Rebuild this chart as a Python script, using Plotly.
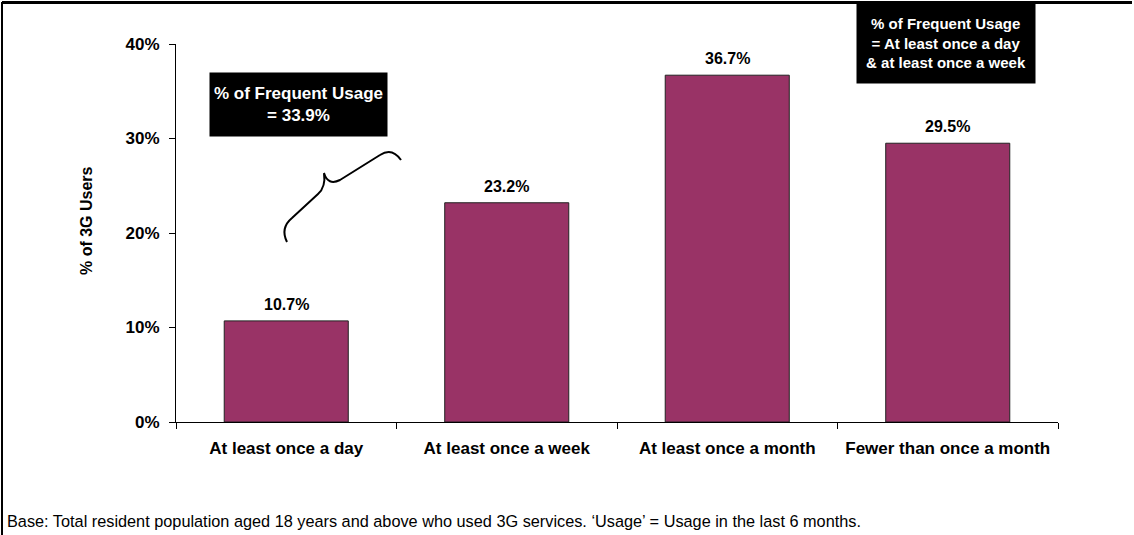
import plotly.graph_objects as go

# Frequency of 3G usage among 3G users
categories = ["At least once a day", "At least once a week",
              "At least once a month", "Fewer than once a month"]
share_pct = [10.7, 23.2, 36.7, 29.5]
frequent_usage_pct = 33.9
y_ticks = [0, 10, 20, 30, 40]
y_tick_text = [f"{t}%" for t in y_ticks]

W, H = 1134, 535
L, R, T, B = 176, 76, 44, 113
PW, PH = W - L - R, H - T - B

FONT = "Liberation Sans, Arial, sans-serif"
PLUM = "#993366"


def px(x):
    """Horizontal pixel position -> paper fraction."""
    return (x - L) / PW


def py(y):
    """Vertical pixel position -> paper fraction."""
    return (H - B - y) / PH


fig = go.Figure(
    go.Bar(
        x=categories,
        y=share_pct,
        marker=dict(color=PLUM, line=dict(color="#222222", width=1)),
        width=0.5625,
        hoverinfo="skip",
    )
)

annotations = []
# value labels above bars
for cat, v in zip(categories, share_pct):
    annotations.append(dict(
        x=cat, y=v, xref="x", yref="y", text=f"<b>{v:.1f}%</b>",
        showarrow=False, xanchor="center", yanchor="bottom", yshift=6,
        font=dict(family=FONT, size=16, color="black"),
    ))

# y-axis title
annotations.append(dict(
    x=px(86), y=py(221), xref="paper", yref="paper",
    xanchor="center", yanchor="middle",
    text="<b>% of 3G Users</b>", textangle=-90, showarrow=False,
    font=dict(family=FONT, size=16, color="black"),
))

# black call-out boxes
annotations.append(dict(
    x=px(298.5), y=py(104.5), xref="paper", yref="paper",
    xanchor="center", yanchor="middle",
    text=f"<b>% of Frequent Usage<br>= {frequent_usage_pct:.1f}%</b>",
    showarrow=False, bgcolor="black", width=177, height=63,
    align="center", valign="middle", borderpad=0,
    font=dict(family=FONT, size=17, color="white"),
))
annotations.append(dict(
    x=px(946), y=py(43), xref="paper", yref="paper",
    xanchor="center", yanchor="middle",
    text="<b>% of Frequent Usage<br>= At least once a day<br>&amp; at least once a week</b>",
    showarrow=False, bgcolor="black", width=178, height=80,
    align="center", valign="middle", borderpad=0,
    font=dict(family=FONT, size=15, color="white"),
))

# footnote
annotations.append(dict(
    x=px(5), y=py(521), xref="paper", yref="paper",
    xanchor="left", yanchor="middle",
    text="Base: Total resident population aged 18 years and above who used 3G services. "
         "\u2018Usage\u2019 = Usage in the last 6 months.",
    showarrow=False, font=dict(family=FONT, size=16.3, color="black"),
))

# curly brace grouping the frequent-usage bars
brace_pts = [
    ("M", [(287, 242)]),
    ("Q", [(280, 228), (292, 218)]),
    ("L", [(318, 194)]),
    ("Q", [(326, 187), (324, 173)]),
    ("Q", [(328, 186), (340, 180)]),
    ("L", [(380, 155)]),
    ("Q", [(392, 147), (401, 160)]),
]
brace_path = " ".join(
    cmd + " " + " ".join(f"{px(a):.5f},{py(b):.5f}" for a, b in pts)
    for cmd, pts in brace_pts
)

shapes = [
    dict(type="path", xref="paper", yref="paper", path=brace_path,
         line=dict(color="black", width=2)),
    # outer frame (top and left edges)
    dict(type="line", xref="paper", yref="paper",
         x0=px(2), x1=px(W - 2), y0=py(2.5), y1=py(2.5),
         line=dict(color="black", width=3)),
    dict(type="line", xref="paper", yref="paper",
         x0=px(2), x1=px(2), y0=py(2), y1=py(H),
         line=dict(color="black", width=2)),
]

fig.update_layout(
    width=W, height=H,
    margin=dict(l=L, r=R, t=T, b=B),
    paper_bgcolor="white", plot_bgcolor="white",
    showlegend=False,
    bargap=0.4375,
    annotations=annotations,
    shapes=shapes,
    xaxis=dict(
        type="category",
        showline=True, linecolor="black", linewidth=1,
        ticks="outside", tickson="boundaries", ticklen=6, tickcolor="black",
        showgrid=False, ticklabelstandoff=11,
        tickfont=dict(family=FONT, size=17, color="black", weight="bold"),
    ),
    yaxis=dict(
        range=[0, 40], tickmode="array", tickvals=y_ticks, ticktext=y_tick_text,
        showline=True, linecolor="black", linewidth=1,
        ticks="outside", ticklen=6, tickcolor="black",
        showgrid=False, zeroline=False, ticklabelstandoff=6,
        tickfont=dict(family=FONT, size=17, color="black", weight="bold"),
    ),
)

fig.write_html("out.html")
